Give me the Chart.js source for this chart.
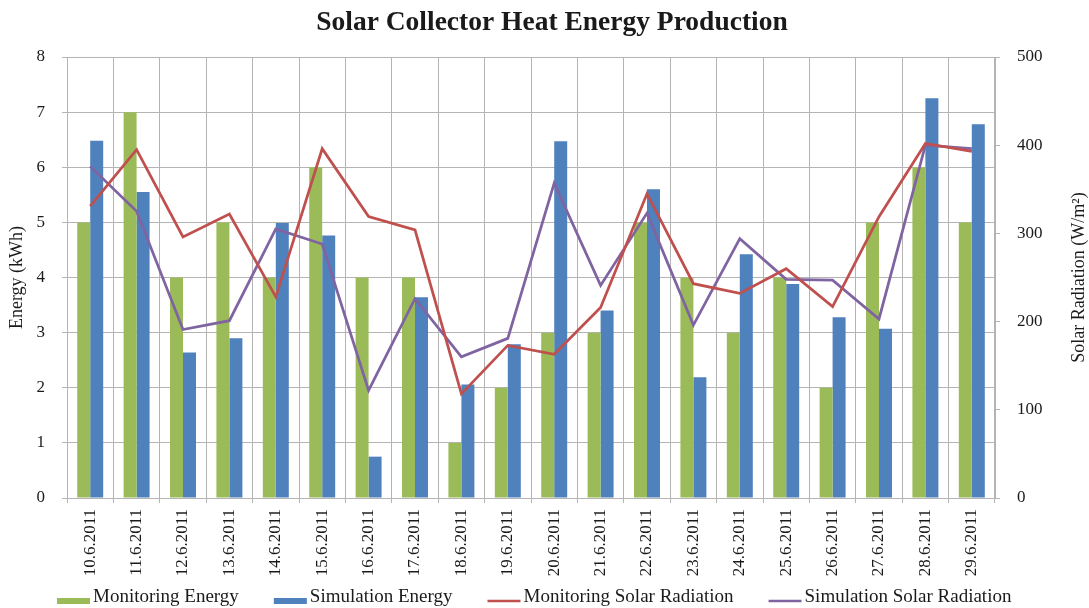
<!DOCTYPE html>
<html>
<head>
<meta charset="utf-8">
<script src="https://cdn.jsdelivr.net/npm/chart.js@4.4.1/dist/chart.umd.min.js"></script>
<style>
    html, body { margin: 0; padding: 0; background: #fff; }
    #wrap { width: 1089px; height: 608px; }
</style>
</head>
<body>
<div id="wrap"><canvas id="solarChart" width="1089" height="608"></canvas></div>
<script>
// values
const dates = ['10.6.2011', '11.6.2011', '12.6.2011', '13.6.2011', '14.6.2011', '15.6.2011', '16.6.2011',
    '17.6.2011', '18.6.2011', '19.6.2011', '20.6.2011', '21.6.2011', '22.6.2011', '23.6.2011',
    '24.6.2011', '25.6.2011', '26.6.2011', '27.6.2011', '28.6.2011', '29.6.2011'];
const monitoringEnergy = [5, 7, 4, 5, 4, 6, 4, 4, 1, 2, 3, 3, 5, 4, 3, 4, 2, 5, 6, 5];
const simulationEnergy = [6.48, 5.55, 2.64, 2.9, 4.99, 4.76, 0.75, 3.64, 2.06, 2.79, 6.47, 3.4, 5.6, 2.19,
    4.42, 3.88, 3.28, 3.07, 7.25, 6.78];
const monitoringRadiation = [331, 395, 296, 322, 228, 396, 319, 304, 118, 173, 163, 216, 345, 243,
    232, 260, 217, 319, 402, 393];
const simulationRadiation = [376, 325, 191, 201, 305, 288, 122, 226, 160, 181, 357, 241, 323, 196,
    294, 248, 247, 203, 400, 396];

const SERIF = '"Liberation Serif", "DejaVu Serif", serif';
const TEXT = '#1a1a1a';
const GRID = '#b4b4b4';
const chartTitle = 'Solar Collector Heat Energy Production';

const legendItems = [
    { label: 'Monitoring Energy', color: '#9bbb59', kind: 'box' },
    { label: 'Simulation Energy', color: '#4f81bd', kind: 'box' },
    { label: 'Monitoring Solar Radiation', color: '#c0504d', kind: 'line' },
    { label: 'Simulation Solar Radiation', color: '#8064a2', kind: 'line' }
];

// title, axis titles (right one reads bottom to top) and the legend strip along the bottom edge
const extraText = {
    id: 'extraText',
    afterDraw(chart) {
        const ctx = chart.ctx;
        const area = chart.chartArea;
        const midY = (area.top + area.bottom) / 2;

        ctx.save();
        ctx.fillStyle = TEXT;
        ctx.textAlign = 'center';
        ctx.textBaseline = 'middle';
        ctx.font = 'bold 27.5px ' + SERIF;
        ctx.fillText(chartTitle, 552, 23);

        ctx.font = '18px ' + SERIF;
        [[17, 'Energy (kWh)'], [1079, 'Solar Radiation (W/m²)']].forEach(function (t) {
            ctx.save();
            ctx.translate(t[0], midY);
            ctx.rotate(-Math.PI / 2);
            ctx.fillText(t[1], 0, 0);
            ctx.restore();
        });

        ctx.font = '19px ' + SERIF;
        ctx.textAlign = 'left';
        ctx.textBaseline = 'alphabetic';
        let x = 57;
        legendItems.forEach(function (item) {
            if (item.kind === 'box') {
                ctx.fillStyle = item.color;
                ctx.fillRect(x, 598, 33, 6);
            } else {
                ctx.strokeStyle = item.color;
                ctx.lineWidth = 2.5;
                ctx.beginPath();
                ctx.moveTo(x, 601);
                ctx.lineTo(x + 33, 601);
                ctx.stroke();
            }
            x += 36;
            ctx.fillStyle = TEXT;
            ctx.fillText(item.label, x, 602);
            x += ctx.measureText(item.label).width + 35;
        });
        ctx.restore();
    }
};

const ctx = document.getElementById('solarChart').getContext('2d');
new Chart(ctx, {
    type: 'bar',
    data: {
        labels: dates,
        datasets: [
            {
                type: 'line',
                label: legendItems[2].label,
                data: monitoringRadiation,
                yAxisID: 'y1',
                borderColor: legendItems[2].color,
                borderWidth: 2.75,
                pointRadius: 0,
                tension: 0,
                order: 1
            },
            {
                type: 'line',
                label: legendItems[3].label,
                data: simulationRadiation,
                yAxisID: 'y1',
                borderColor: legendItems[3].color,
                borderWidth: 2.75,
                pointRadius: 0,
                tension: 0,
                order: 1
            },
            {
                label: legendItems[0].label,
                data: monitoringEnergy,
                yAxisID: 'y',
                backgroundColor: legendItems[0].color,
                categoryPercentage: 0.56,
                barPercentage: 1.0,
                order: 2
            },
            {
                label: legendItems[1].label,
                data: simulationEnergy,
                yAxisID: 'y',
                backgroundColor: legendItems[1].color,
                categoryPercentage: 0.56,
                barPercentage: 1.0,
                order: 2
            }
        ]
    },
    options: {
        responsive: false,
        animation: false,
        layout: { padding: { top: 57 } },
        plugins: {
            legend: { display: false },
            tooltip: { enabled: false },
            title: { display: false }
        },
        scales: {
            x: {
                offset: true,
                grid: { color: GRID, offset: true, tickLength: 5 },
                border: { color: GRID },
                ticks: {
                    color: TEXT,
                    font: { family: SERIF, size: 17 },
                    minRotation: 90,
                    maxRotation: 90,
                    autoSkip: false,
                    padding: 6
                },
                afterFit: function (scale) { scale.height = 110; }
            },
            y: {
                position: 'left',
                min: 0,
                max: 8,
                grid: { color: GRID, tickLength: 5 },
                border: { color: GRID },
                ticks: { stepSize: 1, color: TEXT, font: { family: SERIF, size: 17 }, padding: 17 },
                afterFit: function (scale) { scale.width = 67; }
            },
            y1: {
                position: 'right',
                min: 0,
                max: 500,
                grid: { color: GRID, drawOnChartArea: false, tickLength: 5 },
                border: { color: GRID },
                ticks: { stepSize: 100, color: TEXT, font: { family: SERIF, size: 17 }, padding: 17 },
                afterFit: function (scale) { scale.width = 94; }
            }
        }
    },
    plugins: [extraText]
});
</script>
</body>
</html>
